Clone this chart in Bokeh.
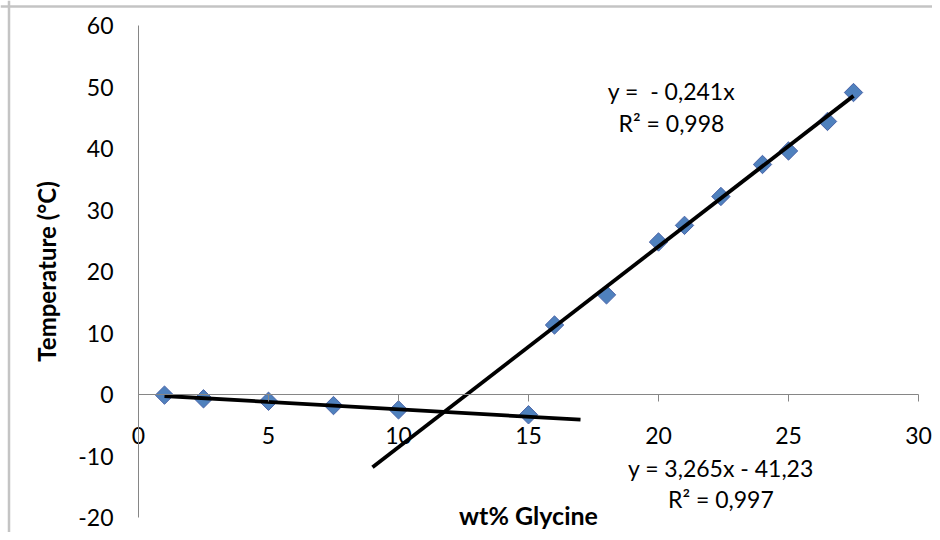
import math
from bokeh.plotting import figure
from bokeh.models import Range1d, FixedTicker, Label, LinearAxis, Span, PrintfTickFormatter
from bokeh.embed import file_html
from bokeh.resources import INLINE

# data
wt_low = [1, 2.5, 5, 7.5, 10, 15]
temp_low = [-0.1, -0.7, -1.1, -1.8, -2.5, -3.3]
wt_high = [16, 18, 20, 21, 22.4, 24, 25, 26.5, 27.5]
temp_high = [11.3, 16.2, 24.8, 27.5, 32.2, 37.4, 39.6, 44.4, 49.1]

# trendlines (Excel): low  y = -0.241x, high y = 3.265x - 41.23
slope_low, icpt_low = -0.241, 0.0
slope_high, icpt_high = 3.265, -41.23
trend_low_x = [1, 17]
trend_high_x = [9, 27.5]

x_ticks = [0, 5, 10, 15, 20, 25, 30]
y_ticks = [-20, -10, 0, 10, 20, 30, 40, 50, 60]

FONT = "Lato"
AX = "#868686"
W, H = 932, 532
XPX = 26.0
YPX = 492 / 80
x0 = -138 / XPX
x1 = x0 + W / XPX
y1 = 60 + 25 / YPX
y0 = y1 - H / YPX

p = figure(width=W, height=H, output_backend="svg",
           toolbar_location=None, x_axis_location=None, y_axis_location=None,
           x_range=Range1d(x0, x1), y_range=Range1d(y0, y1),
           min_border=0)
p.outline_line_color = None
p.xgrid.visible = False
p.ygrid.visible = False

# chart-area border (top / left)
p.add_layout(Span(location=y1 - 6 / YPX, dimension="width",
                  line_color="#C4C4C4", line_width=2.5))
p.add_layout(Span(location=x0 + 8.5 / XPX, dimension="height",
                  line_color="#C4C4C4", line_width=2.5))

yax = LinearAxis(ticker=FixedTicker(ticks=y_ticks), axis_label="Temperature (°C)",
                 fixed_location=0, bounds=(-20, 60),
                 formatter=PrintfTickFormatter(format="%d"))
yax.axis_line_color = AX
yax.major_tick_out = 0
yax.major_tick_in = 0
yax.minor_tick_out = 0
yax.minor_tick_in = 0
yax.major_label_standoff = 25
yax.major_label_text_font = FONT
yax.major_label_text_font_size = "23px"
yax.major_label_text_color = "#000000"
yax.axis_label_text_font = FONT
yax.axis_label_text_font_style = "bold"
yax.axis_label_text_font_size = "24px"
yax.axis_label_text_color = "#000000"
yax.axis_label_standoff = 14
p.add_layout(yax, "left")

xax = LinearAxis(ticker=FixedTicker(ticks=x_ticks), fixed_location=0, bounds=(0, 30),
                 formatter=PrintfTickFormatter(format="%d"))
xax.axis_line_color = AX
xax.major_tick_line_color = AX
xax.major_tick_out = 7
xax.major_tick_in = 0
xax.minor_tick_out = 0
xax.minor_tick_in = 0
xax.major_label_standoff = 25
xax.major_label_text_font = FONT
xax.major_label_text_font_size = "23px"
xax.major_label_text_color = "#000000"
p.add_layout(xax, "below")

p.add_layout(Label(x=15, y=-19.6, text="wt% Glycine", text_font=FONT,
                   text_font_style="bold", text_font_size="25px",
                   text_color="#000000",
                   text_align="center", text_baseline="middle"))

tl_low_y = [slope_low * v + icpt_low for v in trend_low_x]
tl_high_y = [slope_high * v + icpt_high for v in trend_high_x]

p.scatter(wt_low, temp_low, marker="square", angle=math.pi / 4, size=13,
          fill_color="#4F81BD", line_color="#4A63A8", line_width=1)
p.scatter(wt_high, temp_high, marker="square", angle=math.pi / 4, size=13,
          fill_color="#4F81BD", line_color="#4A63A8", line_width=1)
p.line(trend_low_x, tl_low_y, line_color="black", line_width=3.8)
p.line(trend_high_x, tl_high_y, line_color="black", line_width=3.8)

eq = dict(text_font=FONT, text_font_size="23px", text_align="center",
          text_baseline="middle", text_color="#000000")
p.add_layout(Label(x=20.5, y=49.35, text="y =\u00a0\u00a0- 0,241x", **eq))
p.add_layout(Label(x=20.5, y=44.2, text="R² = 0,998", **eq))
p.add_layout(Label(x=22.4, y=-11.9, text="y = 3,265x - 41,23", **eq))
p.add_layout(Label(x=22.4, y=-17.05, text="R² = 0,997", **eq))

open("out.html", "w").write(file_html(p, INLINE))
